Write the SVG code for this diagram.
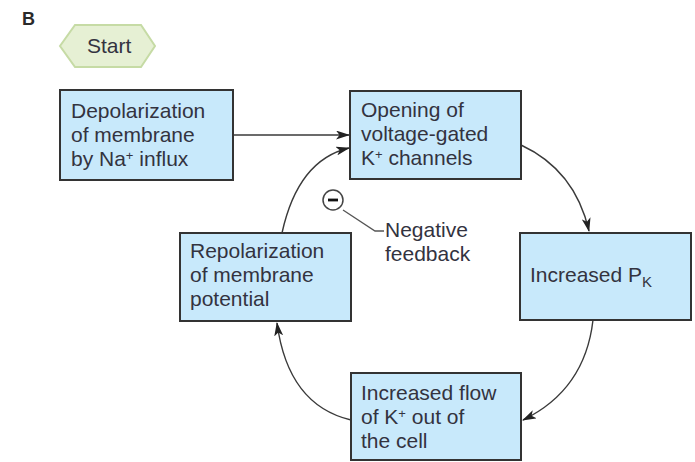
<svg xmlns="http://www.w3.org/2000/svg" width="695" height="462" viewBox="0 0 695 462">
<defs>
<style>
.box{fill:#c8e9fb;stroke:#333;stroke-width:2}
.t{font-family:"Liberation Sans",Arial,sans-serif;font-size:21px;fill:#33333f}
.sup{font-size:13px}
.con{fill:none;stroke:#3a3a3a;stroke-width:1.4}
</style>
<marker id="ah" viewBox="0 0 14 9" refX="13" refY="4.5" markerWidth="14" markerHeight="9" markerUnits="userSpaceOnUse" orient="auto">
<path d="M0,0 L14,4.5 L0,9 L3.5,4.5 Z" fill="#222"/>
</marker>
</defs>
<rect width="695" height="462" fill="#fff"/>
<text x="22" y="25" style="font-family:'Liberation Sans',Arial,sans-serif;font-size:18px;font-weight:bold;fill:#2a2a2a">B</text>
<g id="start">
<polygon points="60,46 75,25 141,25 155,46 141,67 75,67" fill="#e6f0d4" stroke="#c6dba5" stroke-width="2"/>
<text class="t" x="87" y="53">Start</text>
</g>
<g id="connectors">
<path class="con" d="M233,135 L349,135" marker-end="url(#ah)"/>
<path class="con" d="M521,145 Q575,170 589,231" marker-end="url(#ah)"/>
<path class="con" d="M593,320 Q585,390 523,420" marker-end="url(#ah)"/>
<path class="con" d="M351,420 Q288,405 277,323" marker-end="url(#ah)"/>
<path class="con" d="M282,233 Q298,160 349,148" marker-end="url(#ah)"/>
</g>
<g id="depolarization">
<rect class="box" x="60" y="90" width="173" height="90"/>
<text class="t" x="71" y="118">Depolarization</text>
<text class="t" x="71" y="142">of membrane</text>
<text class="t" x="71" y="166">by Na<tspan class="sup" dy="-6">+</tspan><tspan dy="6"> influx</tspan></text>
</g>
<g id="opening">
<rect class="box" x="350" y="91" width="171" height="88"/>
<text class="t" x="361" y="117">Opening of</text>
<text class="t" x="361" y="141">voltage-gated</text>
<text class="t" x="361" y="165">K<tspan class="sup" dy="-6">+</tspan><tspan dy="6"> channels</tspan></text>
</g>
<g id="increased-pk">
<rect class="box" x="520" y="233" width="171" height="87"/>
<text class="t" x="530" y="282">Increased P<tspan font-size="15" dy="5">K</tspan></text>
</g>
<g id="increased-flow">
<rect class="box" x="351" y="373" width="170" height="87"/>
<text class="t" x="361" y="400">Increased flow</text>
<text class="t" x="361" y="424">of K<tspan class="sup" dy="-6">+</tspan><tspan dy="6"> out of</tspan></text>
<text class="t" x="361" y="448">the cell</text>
</g>
<g id="repolarization">
<rect class="box" x="180" y="233" width="171" height="88"/>
<text class="t" x="190" y="258">Repolarization</text>
<text class="t" x="190" y="282">of membrane</text>
<text class="t" x="190" y="306">potential</text>
</g>
<g id="negative-feedback">
<circle cx="333" cy="200" r="10" fill="#fff" stroke="#444" stroke-width="1.5"/>
<rect x="328" y="198.6" width="10" height="2.8" fill="#111"/>
<polyline points="343,210 375,231 384,231" fill="none" stroke="#555" stroke-width="1.3"/>
<text class="t" x="385" y="237">Negative</text>
<text class="t" x="385" y="261">feedback</text>
</g>
</svg>
